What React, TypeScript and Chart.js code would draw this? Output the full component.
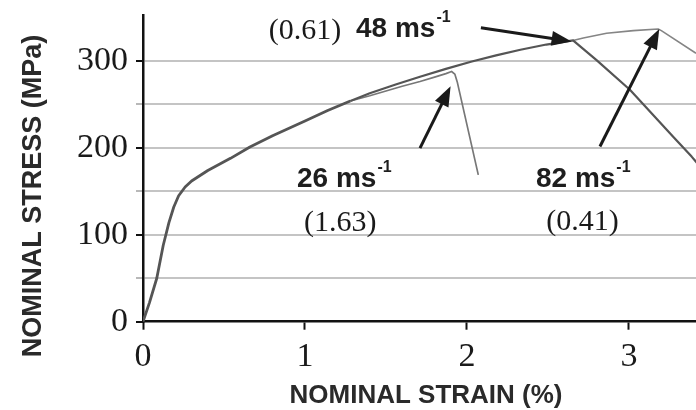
import React, { useEffect, useRef } from "react";
import { Chart, registerables } from "chart.js";

Chart.register(...registerables);

// ---- data (strain in %, stress in MPa) ----
const SHARED_STRAIN = [0, 0.04, 0.085, 0.125, 0.16, 0.19, 0.22, 0.26, 0.3, 0.4, 0.54, 0.66, 0.8, 1.0, 1.14, 1.28];
const SHARED_STRESS = [0, 22, 50, 88, 114, 132, 145, 155, 162, 174, 188, 201, 214, 231, 243, 254];

const STRAIN_26 = [1.4, 1.5, 1.6, 1.71, 1.8, 1.87, 1.905, 1.925, 1.94, 2.07];
const STRESS_26 = [260, 265.5, 271, 276.5, 281.5, 285.5, 288, 285, 276, 169];

const STRAIN_48 = [1.4, 1.56, 1.71, 1.87, 2.03, 2.18, 2.33, 2.49, 2.655, 2.8, 3.006, 3.273, 3.387, 3.45];
const STRESS_48 = [263, 273, 282, 291, 299.5, 306.5, 313, 319, 323.7, 301, 267, 213, 190, 176];

const STRAIN_82 = [2.655, 2.718, 2.862, 3.027, 3.18, 3.2, 3.414, 3.5];
const STRESS_82 = [323.7, 326.5, 332, 335, 336.9, 335, 309, 298];

const X_TICKS = [0, 1, 2, 3];
const Y_TICKS = [0, 50, 100, 150, 200, 250, 300];
const Y_LABELLED = [0, 100, 200, 300];

const X_TITLE = "NOMINAL STRAIN (%)";
const Y_TITLE = "NOMINAL STRESS (MPa)";

// annotations (data units)
const SPEED_TEXT = ["48 ms", "26 ms", "82 ms"];
const SPEED_X = [1.315, 0.951, 2.426];
const SPEED_Y = [327.7, 155.2, 155.2];

const RATIO_TEXT = ["(0.61)", "(1.63)", "(0.41)"];
const RATIO_X = [1.0, 1.218, 2.714];
const RATIO_Y = [334, 113, 115];

const ARROW_FROM_X = [2.086, 1.71, 2.821];
const ARROW_FROM_Y = [338.4, 199.8, 201.6];
const ARROW_TO_X = [2.646, 1.899, 3.187];
const ARROW_TO_Y = [322.6, 271, 336.9];

function pts(xs: number[], ys: number[]) {
  return xs.map((x, i) => ({ x, y: ys[i] }));
}

const lastX = SHARED_STRAIN[SHARED_STRAIN.length - 1];
const lastY = SHARED_STRESS[SHARED_STRESS.length - 1];

const annotationPlugin = {
  id: "annotations",
  afterDatasetsDraw(chart: any) {
    const { ctx } = chart;
    const xs = chart.scales.x;
    const ys = chart.scales.y;
    ctx.save();
    ctx.strokeStyle = "#1a1a1a";
    ctx.fillStyle = "#1a1a1a";
    ctx.lineWidth = 3;
    ctx.lineCap = "butt";
    for (let i = 0; i < ARROW_FROM_X.length; i++) {
      const x0 = xs.getPixelForValue(ARROW_FROM_X[i]);
      const y0 = ys.getPixelForValue(ARROW_FROM_Y[i]);
      const x1 = xs.getPixelForValue(ARROW_TO_X[i]);
      const y1 = ys.getPixelForValue(ARROW_TO_Y[i]);
      const ang = Math.atan2(y1 - y0, x1 - x0);
      const headLen = 20;
      const headHalf = 7.5;
      const bx = x1 - headLen * Math.cos(ang);
      const by = y1 - headLen * Math.sin(ang);
      ctx.beginPath();
      ctx.moveTo(x0, y0);
      ctx.lineTo(bx + 2 * Math.cos(ang), by + 2 * Math.sin(ang));
      ctx.stroke();
      ctx.beginPath();
      ctx.moveTo(x1, y1);
      ctx.lineTo(bx + headHalf * Math.sin(ang), by - headHalf * Math.cos(ang));
      ctx.lineTo(bx - headHalf * Math.sin(ang), by + headHalf * Math.cos(ang));
      ctx.closePath();
      ctx.fill();
    }
    ctx.fillStyle = "#1e1e1e";
    ctx.textAlign = "left";
    ctx.textBaseline = "alphabetic";
    for (let i = 0; i < SPEED_TEXT.length; i++) {
      const px = xs.getPixelForValue(SPEED_X[i]);
      const py = ys.getPixelForValue(SPEED_Y[i]);
      ctx.font = "bold 28px 'Liberation Sans', Arial, sans-serif";
      ctx.fillText(SPEED_TEXT[i], px, py);
      const w = ctx.measureText(SPEED_TEXT[i]).width;
      ctx.font = "bold 16px 'Liberation Sans', Arial, sans-serif";
      ctx.fillText("-1", px + w + 1, py - 15);
    }
    ctx.font = "30px 'Liberation Serif', 'Times New Roman', serif";
    ctx.textAlign = "center";
    ctx.textBaseline = "middle";
    ctx.fillStyle = "#1a1a1a";
    for (let i = 0; i < RATIO_TEXT.length; i++) {
      const px = xs.getPixelForValue(RATIO_X[i]);
      const py = ys.getPixelForValue(RATIO_Y[i]);
      ctx.fillText(RATIO_TEXT[i], px, py);
    }
    ctx.restore();
  },
  afterDraw(chart: any) {
    const { ctx } = chart;
    ctx.save();
    ctx.fillStyle = "#2a2a2a";
    ctx.textAlign = "center";
    ctx.textBaseline = "middle";
    ctx.font = "bold 26px 'Liberation Sans', Arial, sans-serif";
    ctx.fillText(X_TITLE, 426, 396);
    ctx.translate(34, 196);
    ctx.rotate(-Math.PI / 2);
    ctx.font = "bold 27px 'Liberation Sans', Arial, sans-serif";
    ctx.fillText(Y_TITLE, 0, 0);
    ctx.restore();
  },
};

export default function App() {
  const ref = useRef<HTMLCanvasElement | null>(null);
  useEffect(() => {
    if (!ref.current) return;
    const line = (data: any, color: string, width: number) => ({
      data,
      borderColor: color,
      borderWidth: width,
      pointRadius: 0,
      tension: 0,
      fill: false,
      borderJoinStyle: "round" as const,
    });
    const chart = new Chart(ref.current, {
      type: "line",
      data: {
        datasets: [
          line(pts(SHARED_STRAIN, SHARED_STRESS), "#555555", 2.8),
          line(pts([lastX].concat(STRAIN_48), [lastY].concat(STRESS_48)), "#555555", 2.2),
          line(pts([lastX].concat(STRAIN_26), [lastY].concat(STRESS_26)), "#777777", 1.7),
          line(pts(STRAIN_82, STRESS_82), "#858585", 1.6),
        ],
      },
      options: {
        animation: false,
        responsive: false,
        devicePixelRatio: 1,
        layout: { padding: { left: 0, top: 15, right: 0, bottom: 0 } },
        plugins: { legend: { display: false }, tooltip: { enabled: false } },
        scales: {
          x: {
            type: "linear",
            min: 0,
            max: 3.414,
            afterBuildTicks: (s: any) => {
              s.ticks = X_TICKS.map((v) => ({ value: v }));
            },
            afterFit: (s: any) => {
              s.height = 88.3;
              s.paddingLeft = 0;
              s.paddingRight = 0;
            },
            border: { display: true, color: "#111", width: 2.5 },
            grid: {
              drawOnChartArea: false,
              drawTicks: true,
              tickLength: 8,
              tickColor: "#111",
              tickWidth: 2,
            },
            ticks: {
              color: "#1a1a1a",
              padding: 7,
              maxRotation: 0,
              font: { family: "'Liberation Serif', 'Times New Roman', serif", size: 34 },
              callback: (v: any) => String(v),
            },
          },
          y: {
            type: "linear",
            min: 0,
            max: 353,
            afterBuildTicks: (s: any) => {
              s.ticks = Y_TICKS.map((v) => ({ value: v }));
            },
            afterFit: (s: any) => {
              s.width = 143;
              s.paddingTop = 0;
              s.paddingBottom = 0;
            },
            border: { display: true, color: "#111", width: 2.5 },
            grid: {
              drawOnChartArea: true,
              drawTicks: true,
              tickLength: 7,
              lineWidth: 2,
              color: (c: any) => (c.tick && c.tick.value === 0 ? "rgba(0,0,0,0)" : "#c4c4c4"),
              tickColor: (c: any) =>
                c.tick && Y_LABELLED.includes(c.tick.value) ? "#111" : "#b8b8b8",
            },
            ticks: {
              color: "#1a1a1a",
              padding: 8,
              font: { family: "'Liberation Serif', 'Times New Roman', serif", size: 34 },
              callback: (v: any) => (Y_LABELLED.includes(Number(v)) ? String(v) : ""),
            },
          },
        },
      },
      plugins: [annotationPlugin],
    });
    return () => chart.destroy();
  }, []);
  return (
    <div style={{ position: "absolute", left: 0, top: 0, width: 696, height: 410, background: "#fff" }}>
      <canvas ref={ref} width={696} height={410} style={{ display: "block", width: 696, height: 410 }} />
    </div>
  );
}
